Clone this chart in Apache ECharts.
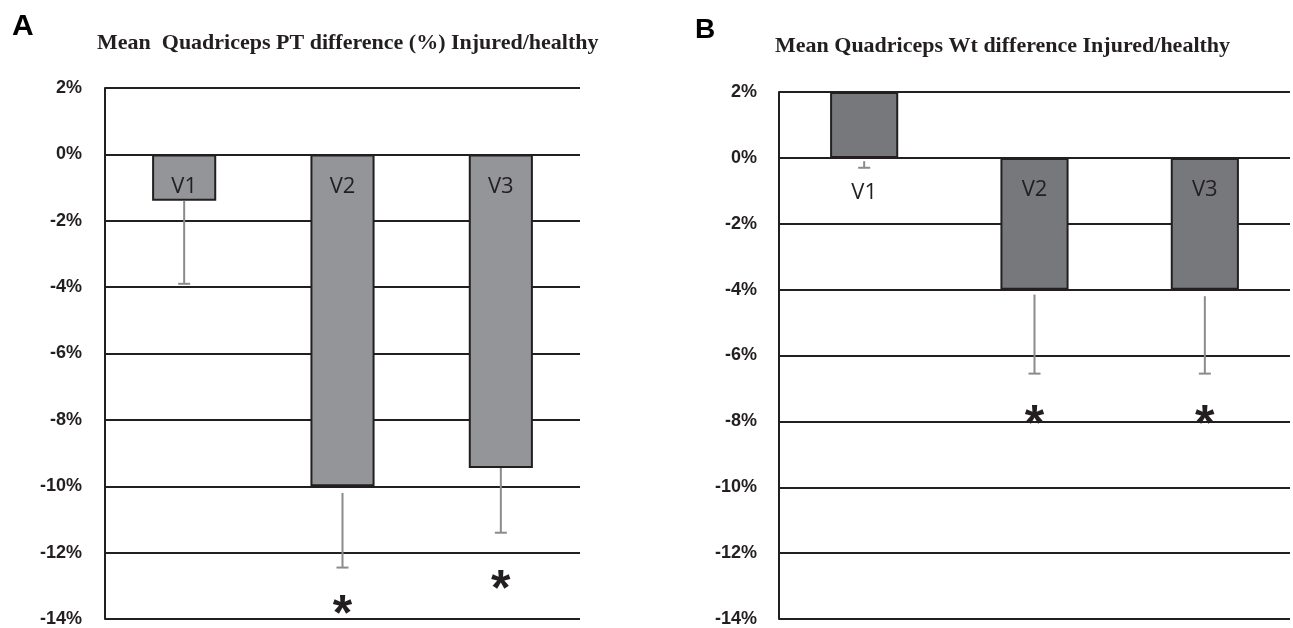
<!DOCTYPE html>
<html>
<head>
<meta charset="utf-8">
<script src="https://cdn.jsdelivr.net/npm/echarts@6/dist/echarts.min.js"></script>
<style>
html,body{margin:0;padding:0;background:#fff;}
#c{width:1293px;height:628px;}
</style>
</head>
<body>
<div id="c"></div>
<script>
// ---- data ----
var categories = ['V1', 'V2', 'V3'];
var yMin = -14, yMax = 2, yInterval = 2;

var ptValues   = [-1.4, -10.0, -9.45];
var ptErrStart = [-1.4, -10.2, -9.45];
var ptErrEnd   = [-3.9, -12.45, -11.4];
var ptStars    = [null, -13.45, -12.7];

var wtValues   = [2.0, -4.0, -4.0];
var wtErrStart = [-0.1, -4.15, -4.2];
var wtErrEnd   = [-0.3, -6.55, -6.55];
var wtStars    = [null, -7.7, -7.7];

var titleA = 'Mean  Quadriceps PT difference (%) Injured/healthy';
var titleB = 'Mean Quadriceps Wt difference Injured/healthy';

// ---- helpers ----
var DARK = '#231f20';
function errData(s, e) {
  return categories.map(function (c, i) { return [i, s[i], e[i]]; });
}
function starData(s) {
  var out = [];
  s.forEach(function (v, i) { if (v !== null) out.push([i, v]); });
  return out;
}
function errSeries(idx, s, e) {
  return {
    type: 'custom', xAxisIndex: idx, yAxisIndex: idx, silent: true, z: 3,
    data: errData(s, e),
    renderItem: function (params, api) {
      var p1 = api.coord([api.value(0), api.value(1)]);
      var p2 = api.coord([api.value(0), api.value(2)]);
      var st = { stroke: '#8a8b8d', lineWidth: 2 };
      return { type: 'group', children: [
        { type: 'line', shape: { x1: p1[0], y1: p1[1], x2: p2[0], y2: p2[1] }, style: st },
        { type: 'line', shape: { x1: p2[0] - 6, y1: p2[1], x2: p2[0] + 6, y2: p2[1] }, style: st }
      ]};
    }
  };
}
function starSeries(idx, s) {
  return {
    type: 'custom', xAxisIndex: idx, yAxisIndex: idx, silent: true, z: 4,
    data: starData(s),
    renderItem: function (params, api) {
      var p = api.coord([api.value(0), api.value(1)]);
      return { type: 'text', x: p[0], y: p[1] + 15,
        style: { text: '*', fill: DARK, font: 'bold 50px "Liberation Sans", Arial, sans-serif',
          align: 'center', verticalAlign: 'middle' } };
    }
  };
}
function yAxis(idx, margin) {
  return {
    type: 'value', gridIndex: idx, min: yMin, max: yMax, interval: yInterval,
    axisLine: { show: true, lineStyle: { color: DARK, width: 2 } },
    axisTick: { show: false },
    splitLine: { show: true, lineStyle: { color: DARK, width: 2 } },
    axisLabel: { margin: margin, color: DARK, fontWeight: 'bold', fontSize: 18,
      fontFamily: '"Liberation Sans", Arial, sans-serif',
      formatter: function (v) { return v + '%'; } }
  };
}
function xAxis(idx) {
  return {
    type: 'category', gridIndex: idx, data: categories,
    axisLine: { show: false }, axisTick: { show: false }, axisLabel: { show: false },
    splitLine: { show: false }
  };
}
var labelFont = '"Open Sans", "Liberation Sans", sans-serif';
var serif = '"Liberation Serif", "Times New Roman", serif';
var sans = '"Liberation Sans", Arial, sans-serif';

var chart = echarts.init(document.getElementById('c'), null, { renderer: 'canvas' });
chart.setOption({
  animation: false,
  backgroundColor: '#fff',
  title: [
    { text: 'A', left: 7, top: 7, textStyle: { fontSize: 30, fontWeight: 'bold', color: '#000', fontFamily: sans } },
    { text: 'B', left: 690, top: 11, textStyle: { fontSize: 28, fontWeight: 'bold', color: '#000', fontFamily: sans } },
    { text: titleA, left: 92, top: 27,
      textStyle: { fontSize: 22, fontWeight: 'bold', color: DARK, fontFamily: serif } },
    { text: titleB, left: 770, top: 30,
      textStyle: { fontSize: 22, fontWeight: 'bold', color: DARK, fontFamily: serif } }
  ],
  grid: [
    { left: 105, right: 713, top: 88, bottom: 5 },
    { left: 779, right: 3, top: 92, bottom: 5 }
  ],
  xAxis: [xAxis(0), xAxis(1)],
  yAxis: [yAxis(0, 23), yAxis(1, 22)],
  series: [
    { type: 'bar', xAxisIndex: 0, yAxisIndex: 0, barWidth: '40.5%', z: 2,
      data: ptValues,
      itemStyle: { color: '#939598', borderColor: DARK, borderWidth: 2 },
      label: { show: true, position: 'insideTop', distance: 21, color: DARK, fontSize: 22,
        fontFamily: labelFont, formatter: function (p) { return p.name; } } },
    { type: 'bar', xAxisIndex: 1, yAxisIndex: 1, barWidth: '40%', z: 2,
      data: wtValues.map(function (v, i) {
        if (v > 0) return { value: v, label: { position: 'bottom', distance: 24 } };
        return v;
      }),
      itemStyle: { color: '#77787b', borderColor: DARK, borderWidth: 2 },
      label: { show: true, position: 'insideTop', distance: 21, color: DARK, fontSize: 22,
        fontFamily: labelFont, formatter: function (p) { return p.name; } } },
    errSeries(0, ptErrStart, ptErrEnd),
    errSeries(1, wtErrStart, wtErrEnd),
    starSeries(0, ptStars),
    starSeries(1, wtStars)
  ]
});
</script>
</body>
</html>
